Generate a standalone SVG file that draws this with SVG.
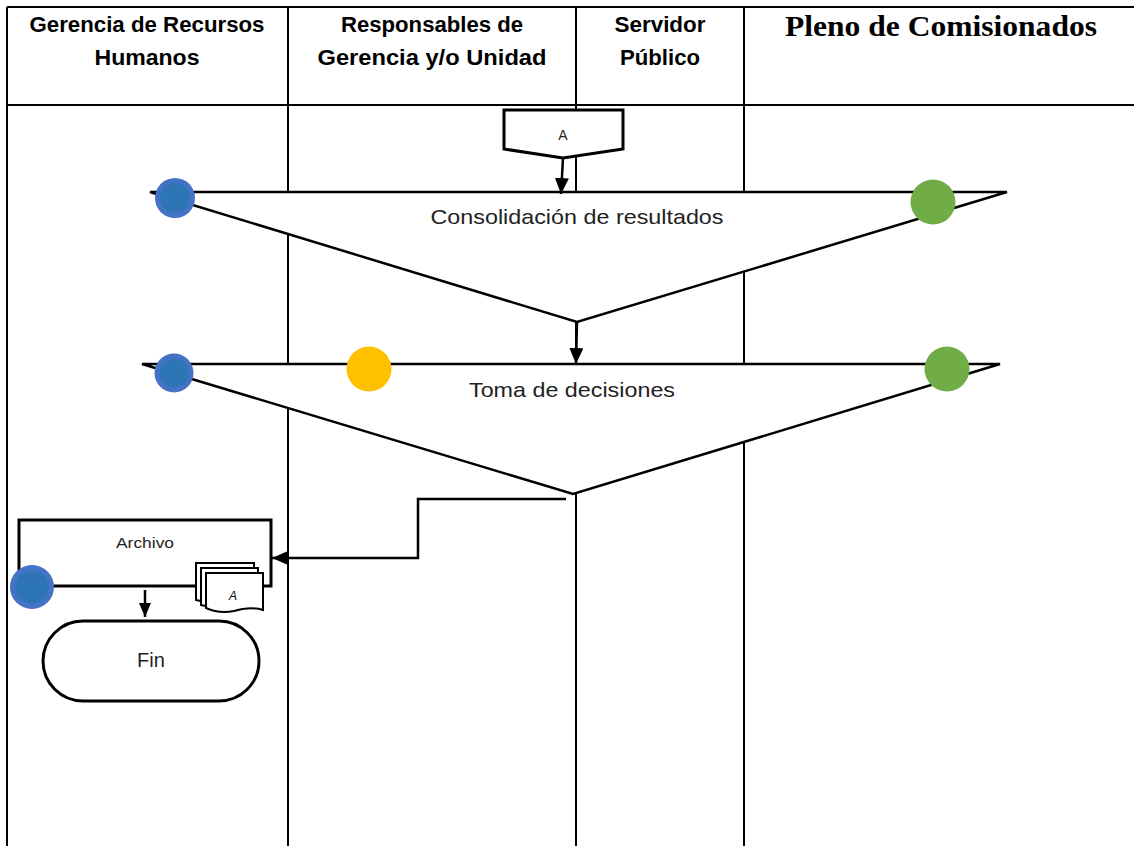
<svg xmlns="http://www.w3.org/2000/svg" width="1134" height="846" viewBox="0 0 1134 846">
  <style>
    .grid { stroke: #000; stroke-width: 2; fill: none; }
    .hdr { font-family: "Liberation Sans", Arial, sans-serif; font-weight: bold; font-size: 22px; fill: #000; text-anchor: middle; }
    .hdr-serif { font-family: "Liberation Serif", "Times New Roman", serif; font-weight: bold; font-size: 29px; fill: #000; text-anchor: middle; }
    .lbl { font-family: "Liberation Sans", Arial, sans-serif; fill: #222; text-anchor: middle; }
    .tri { fill: #fff; stroke: #000; stroke-width: 2.5; stroke-linejoin: miter; }
    .box { fill: #fff; stroke: #000; stroke-width: 3; }
    .conn { stroke: #000; stroke-width: 2.5; fill: none; }
    .blue-o { fill: #4472C4; }
    .blue-i { fill: #2E75B6; }
    .yellow { fill: #FFC000; }
    .green { fill: #70AD47; }
  </style>
  <defs>
    <marker id="arrow" viewBox="0 0 16 14" refX="16" refY="7" markerWidth="16" markerHeight="14" markerUnits="userSpaceOnUse" orient="auto">
      <path d="M0,0 L16,7 L0,14 z" fill="#000"/>
    </marker>
    <marker id="arrow-sm" viewBox="0 0 14 12" refX="14" refY="6" markerWidth="14" markerHeight="12" markerUnits="userSpaceOnUse" orient="auto">
      <path d="M0,0 L14,6 L0,12 z" fill="#000"/>
    </marker>
  </defs>

  <rect width="1134" height="846" fill="#fff"/>

  <!-- swimlane table -->
  <g id="lanes" class="grid">
    <line x1="7" y1="7" x2="1134" y2="7"/>
    <line x1="7" y1="105" x2="1134" y2="105"/>
    <line x1="7" y1="7" x2="7" y2="846"/>
    <line x1="288" y1="7" x2="288" y2="846"/>
    <line x1="576" y1="7" x2="576" y2="846"/>
    <line x1="744" y1="7" x2="744" y2="846"/>
  </g>

  <g id="headers">
    <text class="hdr" x="147" y="32" textLength="235" lengthAdjust="spacingAndGlyphs">Gerencia de Recursos</text>
    <text class="hdr" x="147" y="65" textLength="105" lengthAdjust="spacingAndGlyphs">Humanos</text>
    <text class="hdr" x="432" y="32" textLength="182" lengthAdjust="spacingAndGlyphs">Responsables de</text>
    <text class="hdr" x="432" y="65" textLength="229" lengthAdjust="spacingAndGlyphs">Gerencia y/o Unidad</text>
    <text class="hdr" x="660" y="32" textLength="91" lengthAdjust="spacingAndGlyphs">Servidor</text>
    <text class="hdr" x="660" y="65" textLength="80" lengthAdjust="spacingAndGlyphs">Público</text>
    <text class="hdr-serif" x="941" y="36" textLength="312" lengthAdjust="spacingAndGlyphs">Pleno de Comisionados</text>
  </g>

  <!-- off-page connector A -->
  <g id="node-a">
    <path class="box" d="M504,110 H623 V149 L563,158 L504,149 Z"/>
    <text class="lbl" x="563" y="140" font-size="14">A</text>
  </g>

  <!-- Consolidación de resultados -->
  <g id="node-consolidacion">
    <path class="tri" d="M150,192 H1007 L577,322 Z"/>
    <text class="lbl" x="577" y="224" font-size="21" textLength="293" lengthAdjust="spacingAndGlyphs">Consolidación de resultados</text>
    <circle class="blue-o" cx="175" cy="198" r="20"/>
    <circle class="blue-i" cx="175" cy="198" r="15"/>
    <circle class="green" cx="933" cy="202" r="22.5"/>
  </g>

  <!-- Toma de decisiones -->
  <g id="node-decisiones">
    <path class="tri" d="M142,364 H1000 L573,494 Z"/>
    <text class="lbl" x="572" y="397" font-size="21" textLength="206" lengthAdjust="spacingAndGlyphs">Toma de decisiones</text>
    <circle class="blue-o" cx="174" cy="373" r="19.5"/>
    <circle class="blue-i" cx="174" cy="373" r="14.5"/>
    <circle class="yellow" cx="369" cy="369" r="22.5"/>
    <circle class="green" cx="947" cy="369" r="22.5"/>
  </g>

  <!-- Archivo -->
  <g id="node-archivo">
    <rect class="box" x="19" y="520" width="252" height="66"/>
    <text class="lbl" x="145" y="548" font-size="14" textLength="58" lengthAdjust="spacingAndGlyphs">Archivo</text>
    <g id="doc-stack" fill="#fff" stroke="#000" stroke-width="2">
      <path d="M196,563 H254 V598 Q240,594 225,600 Q210,604 196,600 Z"/>
      <path d="M201,568 H258 V603 Q244,599 229,605 Q214,609 201,605 Z"/>
      <path d="M206,573 H263 V610 Q249,606 234,611 Q219,614 206,608 Z"/>
      <text x="233" y="600" font-family="Liberation Sans, Arial, sans-serif" font-size="12" font-style="italic" stroke="none" fill="#000" text-anchor="middle">A</text>
    </g>
    <circle class="blue-o" cx="32" cy="587" r="22"/>
    <circle class="blue-i" cx="32" cy="587" r="16.5"/>
  </g>

  <!-- Fin -->
  <g id="node-fin">
    <rect class="box" x="43" y="621" width="216" height="80" rx="40" ry="40"/>
    <text class="lbl" x="151" y="667" font-size="20">Fin</text>
  </g>

  <!-- connectors -->
  <g id="connectors">
    <line class="conn" x1="563" y1="158" x2="561" y2="194" marker-end="url(#arrow)"/>
    <line class="conn" x1="577" y1="322" x2="576" y2="364" marker-end="url(#arrow)"/>
    <polyline class="conn" points="566,499 418,499 418,558 272,558" marker-end="url(#arrow)"/>
    <line class="conn" x1="145" y1="590" x2="145" y2="617" marker-end="url(#arrow-sm)"/>
  </g>
</svg>
